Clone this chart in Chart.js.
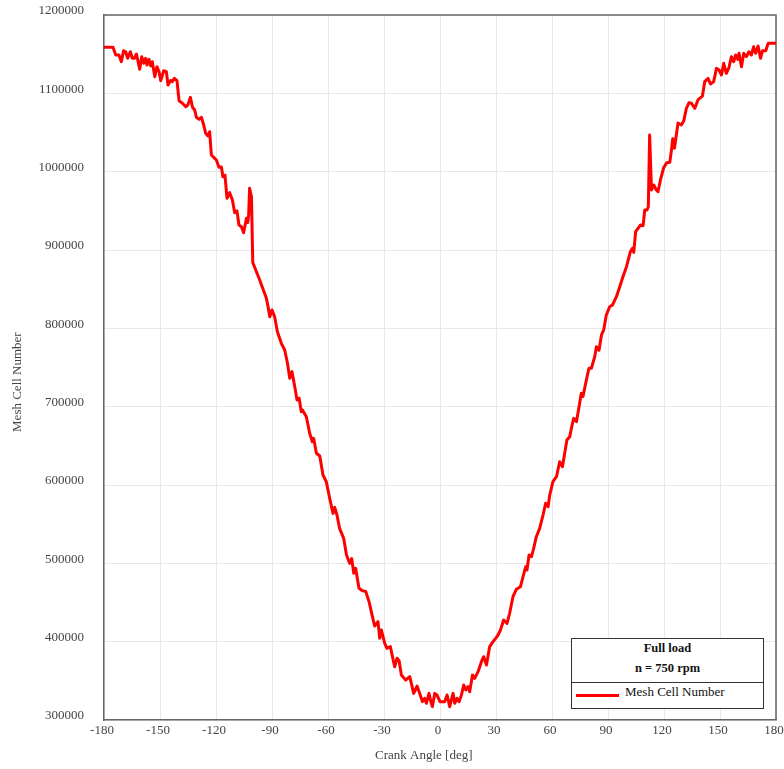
<!DOCTYPE html>
<html>
<head>
<meta charset="utf-8">
<title>Mesh Cell Number vs Crank Angle</title>
<script src="https://cdn.jsdelivr.net/npm/chart.js@4/dist/chart.umd.min.js"></script>
<style>
  html, body { margin: 0; padding: 0; background: #ffffff; }
  #wrap { position: relative; width: 784px; height: 769px; overflow: hidden; }
  #legendBox {
    position: absolute; left: 571px; top: 638px; width: 191px; height: 69px;
    border: 1.5px solid #333; background: #ffffff;
    font-family: 'Liberation Serif', 'Times New Roman', serif; color: #111;
  }
  #legendHead { height: 44px; border-bottom: 1.2px solid #333; text-align: center; font-weight: bold; font-size: 12.5px; }
  #legendHead div { line-height: 20px; }
  #legendHead div:first-child { margin-top: -1px; }
  #legendRow { position: relative; height: 24px; font-size: 13px; }
  #legendRow .swatch { position: absolute; left: 4px; top: 11px; width: 43px; height: 3px; }
  #legendRow .txt { position: absolute; left: 53px; top: 0px; line-height: 18px; }
</style>
</head>
<body>
<div id="wrap">
  <canvas id="chart" width="784" height="769"></canvas>
  <div id="legendBox">
    <div id="legendHead"></div>
    <div id="legendRow"><div class="swatch"></div><div class="txt"></div></div>
  </div>
</div>
<script>
// Crank angle [deg]
const crankAngle = [
  -180, -175.2, -173.7, -172, -170.7, -169.5, -168.4, -167.3, -165.9, -164.8,
  -163.7, -162.6, -160.9, -159.8, -158.7, -157.7, -157, -155.9, -155, -154.1,
  -152.8, -151.6, -150.5, -149.6, -148, -146.6, -145.7, -144.4, -143.4, -142.3,
  -140.9, -139.8, -138, -136.2, -135.1, -133.7, -132.6, -131.4, -130.5, -129.1,
  -127.8, -126.6, -125.5, -124.3, -123.4, -122.5, -121.2, -119.8, -118.4, -117.1,
  -116.3, -115.2, -114.1, -112.7, -111.2, -110, -108.8, -107.7, -106.4, -105.2,
  -103.7, -103, -102.5, -102, -101, -100.3, -96.6, -93, -92.1, -91.2,
  -90, -88.6, -87.1, -85, -83.2, -81.7, -80.5, -79.3, -77.8, -76.6,
  -75.5, -74.3, -73.7, -71.6, -69.8, -68.4, -67.7, -66.2, -64.4, -62.7,
  -60.9, -59.1, -57.3, -56.4, -55.2, -53.8, -51.6, -50.1, -48.4, -47.3,
  -46.2, -45.2, -43.4, -41.6, -39.8, -38, -36.2, -35, -33.2, -32.3,
  -31.4, -29.6, -28.4, -26.6, -24.3, -23, -21.9, -20.7, -18.4, -16.2,
  -14.1, -12.3, -10.9, -9.4, -8.2, -7.3, -5.9, -4.9, -4.1, -2.8,
  -1.6, 0, 2.5, 3.8, 5.2, 7, 7.9, 9.1, 10.2, 11.5,
  12.7, 13.8, 15, 15.9, 17.4, 18.6, 20.4, 22.2, 23.4, 24.9,
  26.6, 28.4, 29.8, 31.1, 32.4, 34.1, 35.9, 37.3, 39.1, 40.9,
  43.1, 44.5, 45.9, 46.6, 47.7, 49, 50.2, 51.6, 53.4, 55.2,
  56.6, 57.9, 58.8, 60.5, 62.4, 64.1, 65.6, 66.8, 68, 69.5,
  70.4, 71.6, 73.1, 74.5, 75.7, 76.6, 78.4, 79.8, 81.1, 82.9,
  83.8, 85.2, 86.5, 87.7, 89.1, 90.9, 92.4, 94.5, 96.3, 98,
  99.9, 102, 103.1, 103.8, 104.8, 106.1, 107.4, 108.8, 109.7, 110.9,
  111.6, 112.3, 113.3, 114.5, 115.9, 116.8, 118.1, 119.8, 121.5, 123.1,
  124, 124.7, 125.6, 126.8, 127.5, 129.3, 130.6, 132, 133.4, 134.7,
  136.5, 138.2, 140.6, 141.8, 143.6, 144.9, 146.6, 148.1, 149.5, 150.8,
  152, 153.4, 154.8, 156.1, 157.3, 158.4, 159.5, 160.2, 161.5, 162.7,
  164.1, 165.5, 166.8, 168, 169.1, 170.4, 171.7, 172.8, 174.5, 175.8,
  180
];

// Mesh cell count at each crank angle
const meshCells = [
  1158800, 1158800, 1148900, 1148900, 1140400, 1154400, 1153100, 1144700, 1153100, 1144700,
  1144700, 1150200, 1130700, 1146800, 1138300, 1144700, 1136200, 1143400, 1134900, 1140400,
  1121300, 1134000, 1127600, 1116200, 1128900, 1127600, 1110600, 1116200, 1115000, 1119100,
  1116200, 1090600, 1087300, 1082900, 1085100, 1094900, 1082200, 1078700, 1069400, 1066800,
  1069400, 1059600, 1049000, 1045500, 1051000, 1021300, 1018300, 1014900, 1005600, 1006000,
  993600, 995500, 966000, 973200, 963800, 947600, 950000, 931900, 929800, 922100,
  940500, 935000, 945000, 978700, 968000, 884000, 861700, 838300, 827600, 814900,
  823400, 814900, 795700, 780900, 772300, 755400, 736200, 744700, 725500, 708500,
  711000, 693600, 695700, 687000, 666000, 655300, 659600, 640500, 637000, 612800,
  604200, 583000, 563800, 571500, 561700, 544700, 531900, 510600, 500000, 506000,
  487300, 493600, 468100, 465100, 464200, 451000, 431900, 420000, 425500, 404300,
  414900, 397900, 391500, 393600, 368000, 378800, 375500, 357400, 351100, 355300,
  334000, 343400, 334000, 323400, 327700, 321300, 334000, 323400, 317000, 334000,
  331900, 323400, 323400, 331900, 317000, 334000, 321300, 327700, 323400, 331900,
  344700, 338300, 342600, 336100, 357400, 353200, 361700, 374400, 380800, 370200,
  393600, 400000, 404300, 408500, 414900, 427700, 423400, 436200, 457400, 466800,
  470200, 482900, 495700, 491400, 510600, 508500, 519200, 534000, 544700, 561700,
  576600, 572300, 587200, 604200, 610600, 629700, 623300, 640500, 657400, 661700,
  672400, 685100, 680900, 700000, 717000, 713000, 734000, 749000, 749000, 763800,
  776600, 772000, 791500, 797900, 817000, 827600, 829800, 840400, 853200, 865900,
  878700, 897800, 902100, 897000, 923400, 927700, 931900, 931000, 951100, 951100,
  955300, 1046800, 976600, 983000, 976600, 974500, 989400, 1005000, 1011500, 1012000,
  1027700, 1042000, 1030000, 1050000, 1062000, 1059600, 1064900, 1080900, 1088000, 1087300,
  1080900, 1091500, 1096600, 1114900, 1119100, 1111900, 1114900, 1131900, 1129800, 1123400,
  1138300, 1125500, 1132700, 1146800, 1140400, 1148900, 1143400, 1151100, 1134000, 1151100,
  1146800, 1153100, 1148900, 1159500, 1151100, 1160400, 1144700, 1154400, 1154400, 1163800,
  1163800
];

// Axis ranges and tick steps
const angleTicks = { min: -180, max: 180, step: 30 };
const cellTicks = { min: 300000, max: 1200000, step: 100000 };

const seriesLabel = 'Mesh Cell Number';
const legendTitle = ['Full load', 'n = 750 rpm'];
const xTitle = 'Crank Angle [deg]';
const yTitle = 'Mesh Cell Number';
const lineColor = '#ff0000';

const serif = "'Liberation Serif', 'Times New Roman', serif";
const gridColor = '#e8e8e8';
const frameColor = '#666666';

// Axis titles sit a little off the plot centre; trailing spaces nudge them
const nudge = (s, n) => s + ' '.repeat(n);

// Closes the plot frame on the top and right sides
const frameBox = {
  id: 'frameBox',
  beforeDatasetsDraw(chart) {
    const { ctx, chartArea: a } = chart;
    ctx.save();
    ctx.strokeStyle = frameColor;
    ctx.lineWidth = 1.5;
    ctx.beginPath();
    ctx.moveTo(a.left, a.top);
    ctx.lineTo(a.right, a.top);
    ctx.lineTo(a.right, a.bottom);
    ctx.stroke();
    ctx.restore();
  }
};

const points = crankAngle.map((x, i) => ({ x: x, y: meshCells[i] }));

new Chart(document.getElementById('chart'), {
  type: 'line',
  data: {
    datasets: [{
      label: seriesLabel,
      data: points,
      borderColor: lineColor,
      backgroundColor: lineColor,
      borderWidth: 3,
      pointRadius: 0,
      tension: 0,
      borderJoinStyle: 'round',
      fill: false
    }]
  },
  options: {
    responsive: false,
    animation: false,
    layout: { autoPadding: false, padding: 0 },
    plugins: { legend: { display: false }, tooltip: { enabled: false } },
    scales: {
      x: {
        type: 'linear',
        min: angleTicks.min,
        max: angleTicks.max,
        afterFit(scale) {
          scale.height = 49;
          scale.paddingRight = 8;
          scale.paddingLeft = 0;
        },
        ticks: {
          stepSize: angleTicks.step,
          padding: 3,
          labelOffset: -2,
          maxRotation: 0,
          color: '#444',
          font: { family: serif, size: 13 }
        },
        grid: { color: gridColor, lineWidth: 1, drawTicks: false },
        border: { display: true, color: frameColor, width: 1.5 },
        title: {
          display: true,
          text: nudge(xTitle, 10),
          color: '#444',
          font: { family: serif, size: 13 },
          padding: { top: 0, bottom: 6 }
        }
      },
      y: {
        type: 'linear',
        min: cellTicks.min,
        max: cellTicks.max,
        afterFit(scale) {
          scale.width = 104;
          scale.paddingTop = 15;
          scale.paddingBottom = 0;
        },
        ticks: {
          stepSize: cellTicks.step,
          padding: 20,
          labelOffset: -4,
          color: '#444',
          font: { family: serif, size: 13 },
          callback: v => String(v)
        },
        grid: { color: gridColor, lineWidth: 1, drawTicks: false },
        border: { display: true, color: frameColor, width: 1.5 },
        title: {
          display: true,
          text: nudge(yTitle, 9),
          color: '#444',
          font: { family: serif, size: 13 },
          padding: { top: 10, bottom: 0 }
        }
      }
    }
  },
  plugins: [frameBox]
});

// Legend box in the lower right corner of the plot
const head = document.getElementById('legendHead');
legendTitle.forEach(t => {
  const d = document.createElement('div');
  d.textContent = t;
  head.appendChild(d);
});
document.querySelector('#legendRow .swatch').style.background = lineColor;
document.querySelector('#legendRow .txt').textContent = seriesLabel;
</script>
</body>
</html>
